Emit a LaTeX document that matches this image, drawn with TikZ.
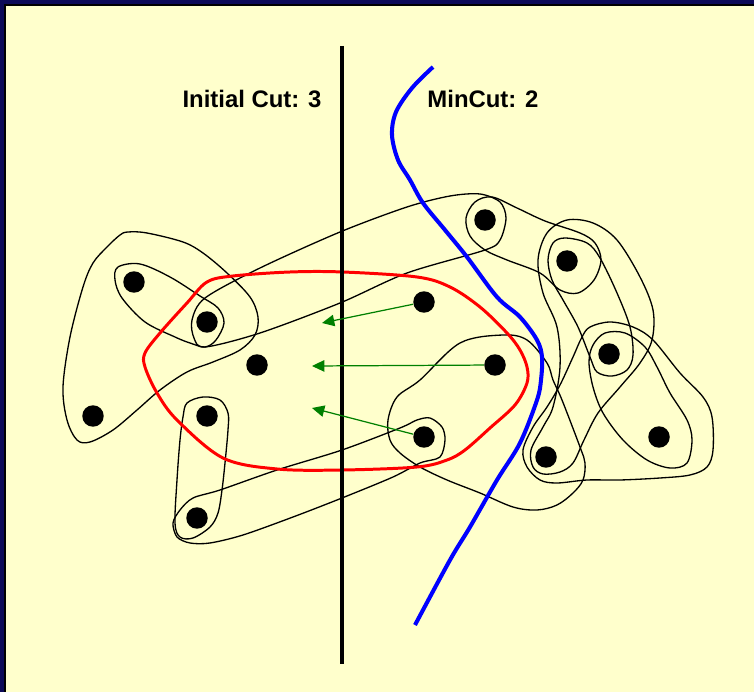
\documentclass[tikz,border=0pt]{standalone}
\usepackage{fontspec}
\setmainfont{Liberation Sans}
\usetikzlibrary{arrows.meta}
\definecolor{slidebg}{RGB}{255,255,204}
\definecolor{slidenavy}{RGB}{12,10,88}
\definecolor{movegreen}{RGB}{0,128,0}

\begin{document}
\begin{tikzpicture}[x=0.02cm, y=-0.02cm,
    vertex/.style={circle, fill=black, inner sep=0pt, minimum size=0.43cm},
    hedge/.style={line width=0.75pt},
    move/.style={draw=movegreen, line width=0.7pt, -{Triangle[length=7pt, width=6.5pt]}},
    cuttext/.style={font=\fontsize{13.6}{16}\selectfont\bfseries, inner sep=0pt}]
  \useasboundingbox (0,0) rectangle (754,692);
  % slide frame
  \fill[slidebg] (-2,-2) rectangle (760,700);
  \fill[slidenavy] (-2,-2) rectangle (760,4);
  \fill[slidenavy] (-2,-2) rectangle (4,700);
  \draw[line width=1.2pt] (5.2,700) -- (5.2,5.2) -- (760,5.2);

  % hyperedges
  \draw[hedge] plot[smooth cycle, tension=0.55] coordinates {(128,232) (147,233) (183,242) (203,253) (227,273) (250,297) (258,317) (255,335) (240,350) (213,362) (187,372) (160,390) (137,410) (113,430) (90,442) (77,440) (67,420) (63,387) (70,337) (83,287) (93,263) (107,247) (120,235)};
  \draw[hedge] plot[smooth cycle, tension=0.55] coordinates {(118,267) (140,264) (170,277) (200,296) (218,308) (224,323) (216,340) (205,347) (190,343) (175,337) (145,322) (122,298) (115,280)};
  \draw[hedge] plot[smooth cycle, tension=0.5] coordinates {(192,320) (205,298) (260,268) (340,232) (407,207) (450,196) (480,194) (500,202) (506,218) (500,240) (485,250) (407,273) (340,303) (260,333) (205,347) (194,338)};
  \draw[hedge] plot[smooth cycle, tension=0.55] coordinates {(485,250) (470,236) (466,218) (475,202) (492,197) (517,208) (545,221) (580,233) (595,243) (601,260) (594,280) (578,293) (560,290) (540,273) (507,260)};
  \draw[hedge] plot[smooth cycle, tension=0.55] coordinates {(548,260) (553,243) (565,238) (587,243) (600,258) (617,293) (630,327) (633,355) (627,370) (612,376) (597,372) (590,357) (578,327) (563,300) (552,280)};
  \draw[hedge] plot[smooth cycle, tension=0.55] coordinates {(547,233) (567,220) (593,223) (617,240) (640,277) (653,310) (652,340) (640,363) (620,387) (598,413) (584,440) (573,463) (560,472) (543,474) (533,467) (531,450) (543,427) (553,407) (560,367) (557,327) (543,293) (538,260)};
  \draw[hedge] plot[smooth cycle, tension=0.55] coordinates {(590,327) (610,322) (633,327) (653,340) (680,373) (703,397) (712,417) (713,450) (707,467) (690,475) (660,478) (620,480) (587,480) (557,483) (540,480) (527,467) (523,450) (533,427) (547,407) (560,385) (573,357) (582,337)};
  \draw[hedge] plot[smooth cycle, tension=0.55] coordinates {(593,345) (605,333) (625,333) (645,347) (657,367) (670,393) (687,420) (692,440) (687,463) (670,468) (647,460) (623,440) (603,413) (593,387) (589,362)};
  \draw[hedge] plot[smooth cycle, tension=0.55] coordinates {(420,380) (460,343) (503,335) (527,340) (547,363) (553,380) (562,400) (580,447) (585,463) (583,480) (573,493) (557,505) (537,510) (513,507) (480,493) (447,480) (420,467) (400,453) (390,440) (388,420) (397,397)};
  \draw[hedge] plot[smooth cycle, tension=0.5] coordinates {(173,523) (177,537) (190,543) (210,543) (243,535) (293,517) (342,498) (393,477) (420,463) (440,457) (445,440) (442,427) (430,418) (417,420) (400,428) (342,450) (277,470) (220,490) (193,498) (180,510)};
  \draw[hedge] plot[smooth cycle, tension=0.55] coordinates {(187,403) (203,397) (220,400) (228,413) (228,430) (225,463) (222,490) (218,513) (210,527) (193,538) (180,537) (175,523) (177,480) (180,440) (183,417)};

  % partition
  \draw[red, line width=1.7pt] plot[smooth cycle, tension=0.55] coordinates {(343,272) (417,277) (450,287) (480,307) (507,333) (520,350) (527,367) (527,383) (515,405) (490,428) (465,450) (447,460) (417,467) (342,470) (277,469) (223,458) (177,420) (157,393) (145,367) (145,353) (160,333) (187,303) (207,282) (233,276) (290,272)};

  % cuts
  \coordinate (c1) at (342,46);
  \coordinate (c2) at (342,664);
  \draw[line width=2pt] (c1) -- (c2);
  \draw[blue, line width=2.3pt] plot[smooth, tension=0.55] coordinates {(433,67) (412,88) (396,112) (392,135) (398,160) (410,180) (423,203) (445,230) (467,257) (497,297) (520,317) (537,340) (542,357) (541,380) (537,400) (520,443) (497,480) (470,527) (450,560) (415,625)};

  \node (cut1) [cuttext] at (252,99) {Initial Cut: 3};
  \node (cut2) [cuttext] at (483,99) {MinCut: 2};

  % vertices
  \node (v1) [vertex] at (134,282) {};
  \node (v2) [vertex] at (207,322) {};
  \node (v3) [vertex] at (257,365) {};
  \node (v4) [vertex] at (93,416) {};
  \node (v5) [vertex] at (207,416) {};
  \node (v6) [vertex] at (197,518) {};
  \node (v7) [vertex] at (424,302) {};
  \node (v8) [vertex] at (495,365) {};
  \node (v9) [vertex] at (424,437) {};
  \node (v10) [vertex] at (485,220) {};
  \node (v11) [vertex] at (567,261) {};
  \node (v12) [vertex] at (609,354) {};
  \node (v13) [vertex] at (546,457) {};
  \node (v14) [vertex] at (659,437) {};

  % moves
  \coordinate (m7) at (322,323);
  \coordinate (m8) at (312,366);
  \coordinate (m9) at (312,408);
  \draw[move] (v7) -- (m7);
  \draw[move] (v8) -- (m8);
  \draw[move] (v9) -- (m9);
\end{tikzpicture}
\end{document}
